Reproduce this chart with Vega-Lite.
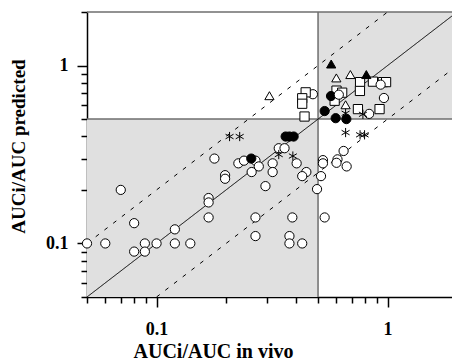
{
  "$schema": "https://vega.github.io/schema/vega-lite/v6.json",
  "width": 365,
  "height": 285,
  "autosize": {"type": "none"},
  "padding": {"left": 87, "top": 12, "right": 0, "bottom": 63},
  "background": "white",
  "config": {"view": {"stroke": null}, "font": "Liberation Serif"},
  "datasets": {
    "regions": [
      {"x": 0.05, "x2": 0.5, "y": 0.05, "y2": 0.5},
      {"x": 0.5, "x2": 1.9, "y": 0.5, "y2": 2}
    ],
    "bounds": [
      {"x": 0.5, "x2": 0.5, "y": 0.05, "y2": 2, "c": "g"},
      {"x": 0.05, "x2": 1.9, "y": 0.5, "y2": 0.5, "c": "g"},
      {"x": 0.05, "x2": 1.9, "y": 2, "y2": 2, "c": "g"}
    ],
    "lines": [
      {"id": "identity", "kind": "solid", "x": 0.05, "y": 0.05},
      {"id": "identity", "kind": "solid", "x": 1.9, "y": 1.9},
      {"id": "upper", "kind": "dashed", "x": 0.05, "y": 0.1},
      {"id": "upper", "kind": "dashed", "x": 1, "y": 2},
      {"id": "lower", "kind": "dashed", "x": 0.1, "y": 0.05},
      {"id": "lower", "kind": "dashed", "x": 1.9, "y": 0.95}
    ],
    "points": [
      {"x": 0.05, "y": 0.1, "m": "oc"},
      {"x": 0.06, "y": 0.1, "m": "oc"},
      {"x": 0.07, "y": 0.2, "m": "oc"},
      {"x": 0.08, "y": 0.13, "m": "oc"},
      {"x": 0.08, "y": 0.09, "m": "oc"},
      {"x": 0.089, "y": 0.1, "m": "oc"},
      {"x": 0.089, "y": 0.09, "m": "oc"},
      {"x": 0.1, "y": 0.1, "m": "oc"},
      {"x": 0.12, "y": 0.12, "m": "oc"},
      {"x": 0.12, "y": 0.1, "m": "oc"},
      {"x": 0.14, "y": 0.1, "m": "oc"},
      {"x": 0.168, "y": 0.18, "m": "oc"},
      {"x": 0.168, "y": 0.17, "m": "oc"},
      {"x": 0.168, "y": 0.14, "m": "oc"},
      {"x": 0.178, "y": 0.3, "m": "oc"},
      {"x": 0.198, "y": 0.242, "m": "oc"},
      {"x": 0.198, "y": 0.231, "m": "oc"},
      {"x": 0.226, "y": 0.282, "m": "oc"},
      {"x": 0.239, "y": 0.292, "m": "oc"},
      {"x": 0.268, "y": 0.292, "m": "oc"},
      {"x": 0.277, "y": 0.271, "m": "oc"},
      {"x": 0.258, "y": 0.252, "m": "oc"},
      {"x": 0.318, "y": 0.282, "m": "oc"},
      {"x": 0.318, "y": 0.252, "m": "oc"},
      {"x": 0.296, "y": 0.21, "m": "oc"},
      {"x": 0.268, "y": 0.14, "m": "oc"},
      {"x": 0.268, "y": 0.11, "m": "oc"},
      {"x": 0.387, "y": 0.14, "m": "oc"},
      {"x": 0.376, "y": 0.11, "m": "oc"},
      {"x": 0.376, "y": 0.1, "m": "oc"},
      {"x": 0.427, "y": 0.1, "m": "oc"},
      {"x": 0.534, "y": 0.14, "m": "oc"},
      {"x": 0.404, "y": 0.282, "m": "oc"},
      {"x": 0.445, "y": 0.252, "m": "oc"},
      {"x": 0.427, "y": 0.239, "m": "oc"},
      {"x": 0.515, "y": 0.239, "m": "oc"},
      {"x": 0.495, "y": 0.202, "m": "oc"},
      {"x": 0.525, "y": 0.294, "m": "oc"},
      {"x": 0.525, "y": 0.282, "m": "oc"},
      {"x": 0.607, "y": 0.297, "m": "oc"},
      {"x": 0.601, "y": 0.284, "m": "oc"},
      {"x": 0.665, "y": 0.271, "m": "oc"},
      {"x": 0.645, "y": 0.331, "m": "oc"},
      {"x": 0.338, "y": 0.343, "m": "oc"},
      {"x": 0.358, "y": 0.343, "m": "oc"},
      {"x": 0.475, "y": 0.69, "m": "oc"},
      {"x": 0.832, "y": 0.535, "m": "oc"},
      {"x": 0.964, "y": 0.657, "m": "oc"},
      {"x": 0.442, "y": 0.707, "m": "os"},
      {"x": 0.427, "y": 0.655, "m": "os"},
      {"x": 0.427, "y": 0.61, "m": "os"},
      {"x": 0.437, "y": 0.517, "m": "os"},
      {"x": 0.601, "y": 0.723, "m": "os"},
      {"x": 0.636, "y": 0.704, "m": "os"},
      {"x": 0.59, "y": 0.634, "m": "os"},
      {"x": 0.76, "y": 0.807, "m": "os"},
      {"x": 0.759, "y": 0.72, "m": "os"},
      {"x": 0.864, "y": 0.812, "m": "os"},
      {"x": 0.954, "y": 0.807, "m": "os"},
      {"x": 0.985, "y": 0.807, "m": "os"},
      {"x": 0.744, "y": 0.569, "m": "os"},
      {"x": 0.923, "y": 0.569, "m": "os"},
      {"x": 0.933, "y": 0.781, "m": "oc"},
      {"x": 0.308, "y": 0.677, "m": "ot"},
      {"x": 0.6, "y": 0.852, "m": "ot"},
      {"x": 0.69, "y": 0.89, "m": "ot"},
      {"x": 0.658, "y": 0.602, "m": "ot"},
      {"x": 0.257, "y": 0.3, "m": "fc"},
      {"x": 0.362, "y": 0.399, "m": "fc"},
      {"x": 0.376, "y": 0.399, "m": "fc"},
      {"x": 0.392, "y": 0.399, "m": "fc"},
      {"x": 0.534, "y": 0.555, "m": "fc"},
      {"x": 0.569, "y": 0.674, "m": "fc"},
      {"x": 0.615, "y": 0.686, "m": "oc"},
      {"x": 0.596, "y": 0.506, "m": "fc"},
      {"x": 0.663, "y": 0.5, "m": "fc"},
      {"x": 0.57, "y": 1.02, "m": "ft"},
      {"x": 0.809, "y": 0.89, "m": "ft"},
      {"x": 0.207, "y": 0.399, "m": "as"},
      {"x": 0.229, "y": 0.399, "m": "as"},
      {"x": 0.338, "y": 0.316, "m": "as"},
      {"x": 0.389, "y": 0.31, "m": "as"},
      {"x": 0.658, "y": 0.539, "m": "as"},
      {"x": 0.782, "y": 0.532, "m": "as"},
      {"x": 0.658, "y": 0.42, "m": "as"},
      {"x": 0.76, "y": 0.408, "m": "as"},
      {"x": 0.795, "y": 0.408, "m": "as"}
    ]
  },
  "encoding": {
    "x": {
      "field": "x",
      "type": "quantitative",
      "scale": {"type": "log", "domain": [0.05, 1.9], "nice": false, "zero": false},
      "axis": {
        "values": [0.05, 0.06, 0.07, 0.08, 0.09, 0.1, 0.2, 0.3, 0.4, 0.5, 0.6, 0.7, 0.8, 0.9, 1],
        "labelExpr": "datum.value == 0.1 ? '0.1' : datum.value == 1 ? '1' : ''",
        "tickSize": {"condition": {"test": "datum.value == 0.1 || datum.value == 1", "value": 10}, "value": 6},
        "tickColor": "black",
        "tickWidth": 1.5,
        "domainColor": "black",
        "domainWidth": 1.5,
        "grid": false,
        "labelFont": "Liberation Serif",
        "labelFontWeight": "bold",
        "labelFontSize": 18,
        "labelColor": "black",
        "labelPadding": 13,
        "labelFlush": false,
        "labelOverlap": false,
        "title": "AUCi/AUC in vivo",
        "titleFont": "Liberation Serif",
        "titleFontWeight": "bold",
        "titleFontSize": 20,
        "titleColor": "black",
        "titleX": 126,
        "titleY": 60,
        "titleBaseline": "alphabetic",
        "titleAlign": "center"
      }
    },
    "y": {
      "field": "y",
      "type": "quantitative",
      "scale": {"type": "log", "domain": [0.05, 2], "nice": false, "zero": false},
      "axis": {
        "values": [0.05, 0.06, 0.07, 0.08, 0.09, 0.1, 0.2, 0.3, 0.4, 0.5, 0.6, 0.7, 0.8, 0.9, 1, 2],
        "labelExpr": "datum.value == 0.1 ? '0.1' : datum.value == 1 ? '1' : ''",
        "tickSize": {"condition": {"test": "datum.value == 0.1 || datum.value == 1", "value": 10}, "value": 6},
        "tickColor": "black",
        "tickWidth": 1.5,
        "domainColor": "black",
        "domainWidth": 1.5,
        "grid": false,
        "labelFont": "Liberation Serif",
        "labelFontWeight": "bold",
        "labelFontSize": 18,
        "labelColor": "black",
        "labelPadding": 9,
        "labelFlush": false,
        "labelOverlap": false,
        "title": "AUCi/AUC predicted",
        "titleFont": "Liberation Serif",
        "titleFontWeight": "bold",
        "titleFontSize": 19,
        "titleColor": "black",
        "titleX": -63,
        "titleY": 134,
        "titleAngle": -90,
        "titleBaseline": "alphabetic",
        "titleAlign": "center"
      }
    }
  },
  "layer": [
    {
      "data": {"name": "regions"},
      "mark": {"type": "rect", "fill": "#e0e0e0", "stroke": null},
      "encoding": {"x2": {"field": "x2"}, "y2": {"field": "y2"}}
    },
    {
      "data": {"name": "bounds"},
      "mark": {"type": "rule", "color": "#6e6e6e", "strokeWidth": 1.5},
      "encoding": {"x2": {"field": "x2"}, "y2": {"field": "y2"}}
    },
    {
      "data": {"name": "lines"},
      "mark": {"type": "line", "color": "black", "strokeWidth": 1},
      "encoding": {
        "detail": {"field": "id"},
        "strokeDash": {
          "field": "kind",
          "type": "nominal",
          "scale": {"domain": ["solid", "dashed"], "range": [[1, 0], [4, 7]]},
          "legend": null
        }
      }
    },
    {
      "data": {"name": "points"},
      "mark": {"type": "point", "filled": false, "stroke": "black", "strokeWidth": 1, "opacity": 1},
      "encoding": {
        "shape": {
          "field": "m",
          "type": "nominal",
          "scale": {
            "domain": ["oc", "fc", "ot", "ft", "os", "as"],
            "range": ["circle", "circle", "triangle-up", "triangle-up", "square", "M0,-1L0,1M-0.866,-0.5L0.866,0.5M-0.866,0.5L0.866,-0.5"]
          },
          "legend": null
        },
        "fill": {
          "field": "m",
          "type": "nominal",
          "scale": {
            "domain": ["oc", "fc", "ot", "ft", "os", "as"],
            "range": ["white", "black", "white", "black", "white", "transparent"]
          },
          "legend": null
        },
        "size": {
          "field": "m",
          "type": "nominal",
          "scale": {
            "domain": ["oc", "fc", "ot", "ft", "os", "as"],
            "range": [85, 85, 115, 115, 80, 130]
          },
          "legend": null
        }
      }
    }
  ]
}
